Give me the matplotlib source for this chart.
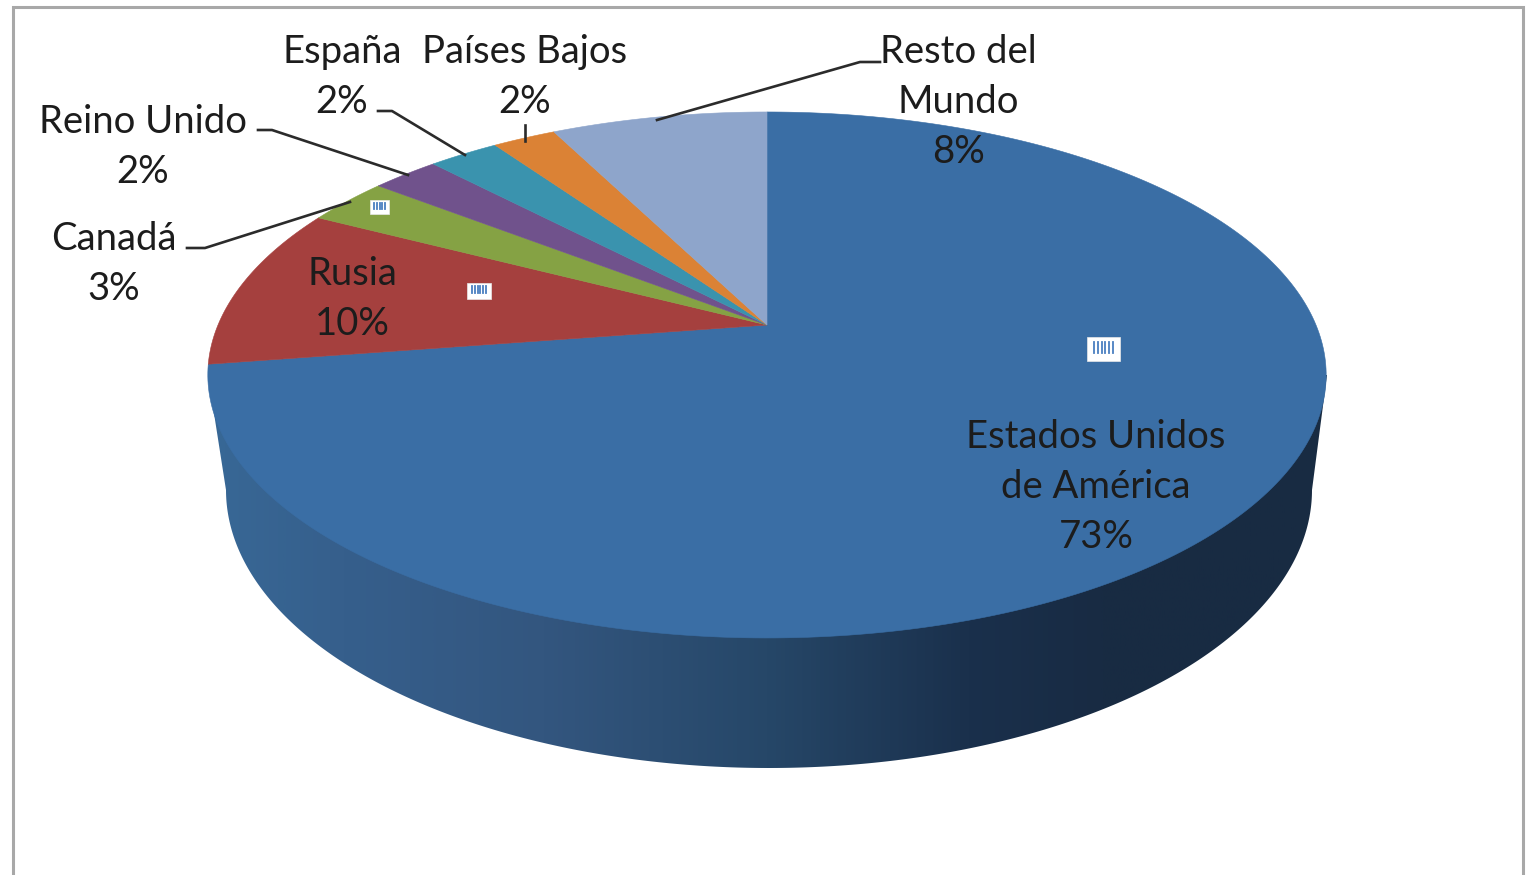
import numpy as np
import matplotlib
matplotlib.use('Agg')
import matplotlib.pyplot as plt
from matplotlib.colors import LinearSegmentedColormap
from matplotlib.patches import Polygon, Rectangle

plt.rcParams['font.family'] = ['Lato', 'DejaVu Sans']

paises = ['Estados Unidos\nde América', 'Rusia', 'Canadá', 'Reino Unido', 'España', 'Países Bajos', 'Resto del\nMundo']
valores = [72.6, 10.0, 2.9, 2.35, 2.45, 2.2, 7.5]
porcentajes = ['73%', '10%', '3%', '2%', '2%', '2%', '8%']
colores = ['#3a6ea5', '#a5403e', '#85a244', '#70528c', '#3a93ae', '#db8235', '#8ea5cb']

etiqueta_x = [1096, 352, 114, 143, 342, 525, 958]
etiqueta_y = [437, 274, 239, 122, 52, 52, 52]

# leader lines (Canada, Reino Unido, Espana, Paises Bajos, Resto)
guia_x = [[187, 205, 350], [258, 272, 408], [378, 392, 465], [525, 525], [880, 860, 657]]
guia_y = [[248, 248, 202], [130, 130, 175], [111, 111, 155], [125, 141], [62, 62, 120]]

# pie top in perspective, apex sits above the ellipse centre
cx, cy = 767, 325
A, B, k = 549, 253.5, 0.19


def tapa(ang):
    w = 1 + k * np.sin(ang)
    return cx + A * np.cos(ang) / w, cy - B * np.sin(ang) / w


fig = plt.figure(figsize=(15.26, 8.75), dpi=100)
ax = fig.add_axes([0, 0, 1, 1])
ax.set_xlim(0, 1526)
ax.set_ylim(875, 0)
ax.axis('off')

# frame, open at the bottom
ax.plot([13, 13, 1523, 1523], [875, 7, 7, 875], color='#a8a8a8', lw=2.2, solid_joinstyle='miter')

# side wall with the left to right shading
t = np.linspace(np.pi, 2 * np.pi, 300)
bx = 769 + 543 * np.cos(t)
by = 490 - 278 * np.sin(t)
pared = np.column_stack([np.r_[208, bx, 1327], np.r_[375, by, 375]])
cmap = LinearSegmentedColormap.from_list('pared', [(0, '#386896'), (0.12, '#365f8c'), (0.3, '#33567f'),
                                                   (0.5, '#264768'), (0.68, '#1a304c'), (0.8, '#182b43'),
                                                   (1, '#182b42')])
im = ax.imshow(np.linspace(0, 1, 512).reshape(1, -1), extent=(208, 1327, 770, 370), cmap=cmap, aspect='auto', zorder=2)
ax.set_xlim(0, 1526)
ax.set_ylim(875, 0)
clip = Polygon(pared, closed=True, transform=ax.transData, facecolor='none', edgecolor='none')
ax.add_patch(clip)
im.set_clip_path(clip)

# slices, clockwise from the top
inicio = np.pi / 2
total = sum(valores)
for valor, color in zip(valores, colores):
    fin = inicio - 2 * np.pi * valor / total
    ang = np.linspace(inicio, fin, 300)
    x, y = tapa(ang)
    ax.fill(np.r_[cx, x], np.r_[cy, y], facecolor=color, edgecolor=color, lw=0.4, zorder=3)
    inicio = fin

for gx, gy in zip(guia_x, guia_y):
    ax.plot(gx, gy, color='#2b2b2b', lw=1.9, zorder=4)

# small chart icons left over in the original
iconos = [(1087, 337, 33, 24, 6), (467, 283, 24, 16, 6), (370, 200, 19, 14, 5)]
for ix, iy, iw, ih, n in iconos:
    ax.add_patch(Rectangle((ix, iy), iw, ih, facecolor='white', edgecolor='#e8e8e8', lw=0.5, zorder=4))
    for bar in np.linspace(ix + 0.2 * iw, ix + 0.8 * iw, n):
        ax.plot([bar, bar], [iy + 0.2 * ih, iy + 0.65 * ih], color='#4a7fc0', lw=1.3, zorder=5)

for pais, pct, lx, ly in zip(paises, porcentajes, etiqueta_x, etiqueta_y):
    lineas = pais.split('\n') + [pct]
    for i, linea in enumerate(lineas):
        ax.text(lx, ly + 50 * i, linea, ha='center', va='center', fontsize=27.5, color='#1c1c1c', zorder=6)

fig.savefig('out.png', dpi=100, facecolor='white')
